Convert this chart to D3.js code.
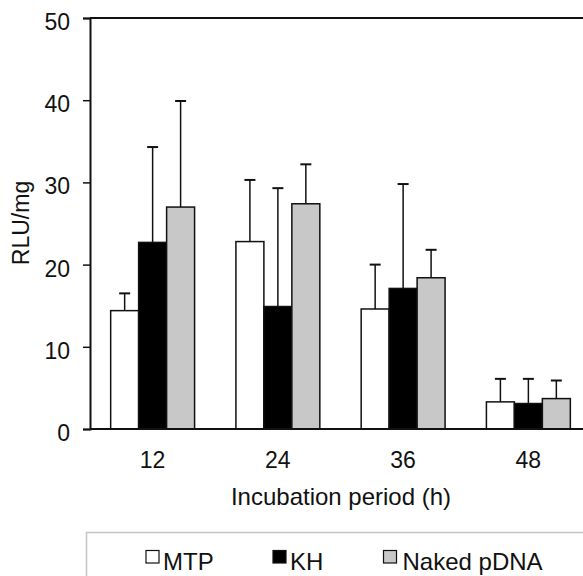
<!DOCTYPE html>
<html>
<head>
<meta charset="utf-8">
<script src="https://cdn.jsdelivr.net/npm/d3@7"></script>
<style>
  body { margin: 0; background: #fff; }
  svg text { font-family: "Liberation Sans", Arial, sans-serif; fill: #111; }
</style>
</head>
<body>
<script>
// chart data
var periods = ["12", "24", "36", "48"];
var seriesNames = ["MTP", "KH", "Naked pDNA"];
var seriesFill = ["#ffffff", "#000000", "#c8c8c8"];
var mtpMean = [14.4, 22.8, 14.6, 3.3];
var mtpErr  = [2.1, 7.5, 5.4, 2.8];
var khMean  = [22.7, 14.9, 17.1, 3.1];
var khErr   = [11.6, 14.4, 12.7, 3.0];
var nakedMean = [27.0, 27.4, 18.4, 3.7];
var nakedErr  = [12.9, 4.8, 3.4, 2.2];
var yTicks = [0, 10, 20, 30, 40, 50];

var means = [mtpMean, khMean, nakedMean];
var errs = [mtpErr, khErr, nakedErr];

var W = 583, H = 576;
var plotLeft = 90, plotTop = 18, plotBottom = 429;

var svg = d3.select("body").append("svg")
    .attr("width", W)
    .attr("height", H);

var x = d3.scaleBand()
    .domain(periods)
    .range([plotLeft, 591])
    .paddingInner(0.33)
    .paddingOuter(0.165);

var xs = d3.scaleBand()
    .domain(d3.range(seriesNames.length))
    .range([0, x.bandwidth()]);

var y = d3.scaleLinear()
    .domain([0, 50])
    .range([plotBottom, plotTop]);

// y axis
var yAxis = d3.axisLeft(y)
    .tickValues(yTicks)
    .tickSize(7)
    .tickPadding(13);

var gy = svg.append("g")
    .attr("transform", "translate(" + plotLeft + ",0)")
    .call(yAxis);
gy.select(".domain").attr("stroke", "#111").attr("stroke-width", 2);
gy.selectAll(".tick line").attr("stroke", "#111").attr("stroke-width", 1.5);
gy.selectAll(".tick text")
    .attr("font-size", 23)
    .attr("dy", "0.5em")
    .attr("fill", "#111");

// top frame line
svg.append("line")
    .attr("x1", plotLeft).attr("x2", W)
    .attr("y1", y(50)).attr("y2", y(50))
    .attr("stroke", "#111").attr("stroke-width", 2);

// bars
var groups = svg.append("g").selectAll("g")
    .data(periods)
    .enter().append("g")
    .attr("transform", function (d) { return "translate(" + x(d) + ",0)"; });

groups.each(function (p, gi) {
    var g = d3.select(this);
    for (var s = 0; s < seriesNames.length; s++) {
        var v = means[s][gi];
        var e = errs[s][gi];
        var cx = xs(s) + xs.bandwidth() / 2;
        // error bar (upper only)
        g.append("line")
            .attr("x1", cx).attr("x2", cx)
            .attr("y1", y(v)).attr("y2", y(v + e))
            .attr("stroke", "#111").attr("stroke-width", 1.5);
        g.append("line")
            .attr("x1", cx - 5.5).attr("x2", cx + 5.5)
            .attr("y1", y(v + e)).attr("y2", y(v + e))
            .attr("stroke", "#111").attr("stroke-width", 2);
        g.append("rect")
            .attr("x", xs(s))
            .attr("y", y(v))
            .attr("width", xs.bandwidth())
            .attr("height", y(0) - y(v))
            .attr("fill", seriesFill[s])
            .attr("stroke", "#111")
            .attr("stroke-width", 1.5);
    }
});

// x axis baseline
svg.append("line")
    .attr("x1", plotLeft).attr("x2", W)
    .attr("y1", y(0)).attr("y2", y(0))
    .attr("stroke", "#111").attr("stroke-width", 2);

// x tick labels
svg.append("g").selectAll("text")
    .data(periods)
    .enter().append("text")
    .attr("x", function (d) { return x(d) + x.bandwidth() / 2; })
    .attr("y", 468)
    .attr("text-anchor", "middle")
    .attr("font-size", 23)
    .text(function (d) { return d; });

// axis titles
svg.append("text")
    .attr("x", 341)
    .attr("y", 505)
    .attr("text-anchor", "middle")
    .attr("font-size", 24)
    .text("Incubation period (h)");

svg.append("text")
    .attr("transform", "translate(28.5,223) rotate(-90)")
    .attr("text-anchor", "middle")
    .attr("font-size", 23)
    .text("RLU/mg");

// legend box
svg.append("path")
    .attr("d", "M" + W + ",532.5 H86.5 V" + H)
    .attr("fill", "none")
    .attr("stroke", "#c4c4c4")
    .attr("stroke-width", 1.5);

var legendX = [146, 273, 383.5];
var legend = svg.append("g").selectAll("g")
    .data(seriesNames)
    .enter().append("g")
    .attr("transform", function (d, i) { return "translate(" + legendX[i] + ",0)"; });

legend.append("rect")
    .attr("x", 0).attr("y", 550.5)
    .attr("width", 13).attr("height", 12.5)
    .attr("fill", function (d, i) { return seriesFill[i]; })
    .attr("stroke", "#111")
    .attr("stroke-width", 1.2);

legend.append("text")
    .attr("x", function (d, i) { return i === 2 ? 19 : 17; })
    .attr("y", 570)
    .attr("font-size", 24)
    .text(function (d) { return d; });
</script>
</body>
</html>
